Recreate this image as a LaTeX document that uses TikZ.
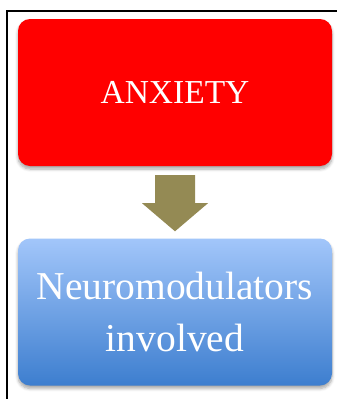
\documentclass[tikz,border=0pt]{standalone}
\usepackage{fontspec}
\setmainfont{Liberation Serif}
\usetikzlibrary{shadows.blur}
\definecolor{boxred}{HTML}{FF0000}
\definecolor{bluetop}{HTML}{A2C6FA}
\definecolor{bluebot}{HTML}{3D7ECF}
\definecolor{arrowol}{HTML}{948A54}
\tikzset{
  box/.style={rounded corners=12pt, minimum width=314pt, minimum height=147pt, inner sep=0pt, text=white, align=center,
    blur shadow={shadow xshift=0pt, shadow yshift=-3pt, shadow blur steps=6, shadow blur radius=3pt, shadow opacity=35}},
}
\begin{document}
\begin{tikzpicture}[x=1pt,y=-1pt]
\useasboundingbox (0,0) rectangle (337,399);
\begin{scope}
\clip (0,0) rectangle (337,399);
\draw[line width=2pt] (7,420) -- (7,11) -- (360,11);
\end{scope}
\node[box, fill=boxred, font=\fontsize{33.5}{38}\selectfont] (anx) at (175,92.5) {ANXIETY};
\node[box, top color=bluetop, bottom color=bluebot, font=\fontsize{39.5}{52}\selectfont] (neu) at (175,312) {Neuromodulators\\involved};
\fill[arrowol] ([xshift=-20pt,yshift=-9pt]anx.south) -- ([xshift=-20pt,yshift=-37pt]anx.south) -- ([xshift=-33pt,yshift=-37pt]anx.south) -- ([yshift=7pt]neu.north) -- ([xshift=33pt,yshift=-37pt]anx.south) -- ([xshift=20pt,yshift=-37pt]anx.south) -- ([xshift=20pt,yshift=-9pt]anx.south) -- cycle;
\end{tikzpicture}
\end{document}
